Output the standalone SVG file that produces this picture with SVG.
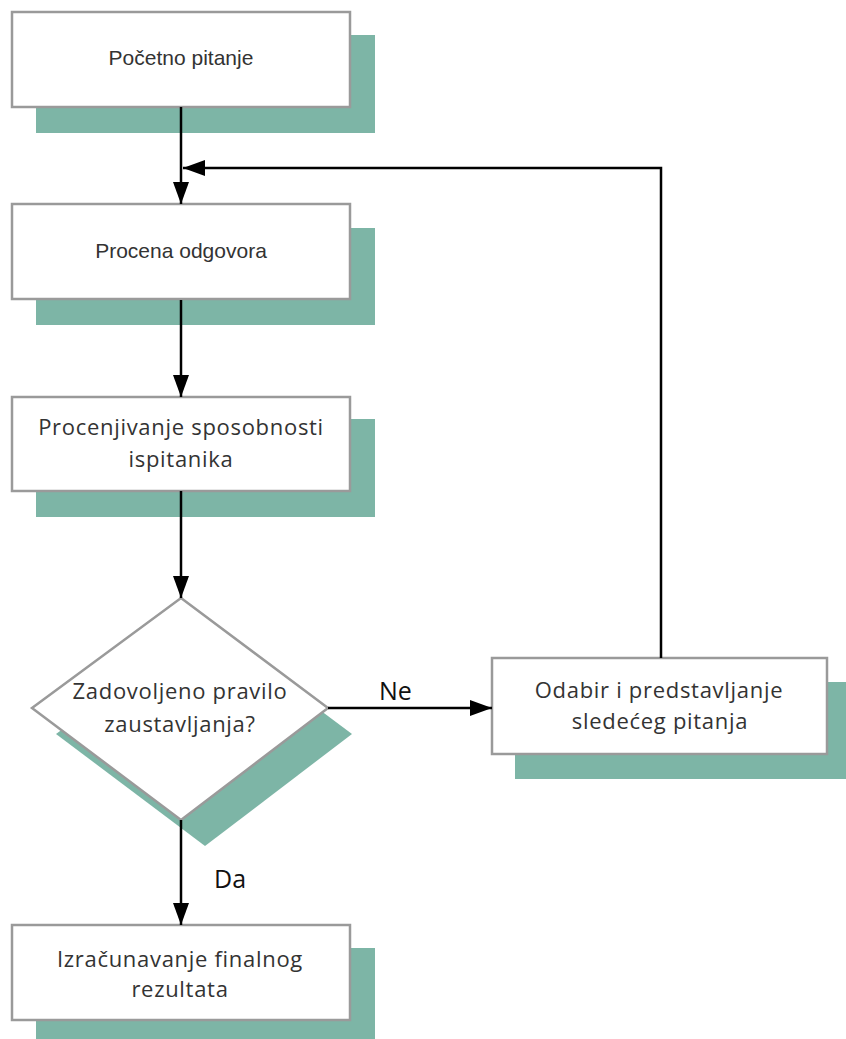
<svg xmlns="http://www.w3.org/2000/svg" width="846" height="1039" viewBox="0 0 846 1039">
<defs>
<marker id="ah" markerWidth="22" markerHeight="16" refX="22" refY="8" orient="auto" markerUnits="userSpaceOnUse">
<path d="M0,0 L22,8 L0,16 Z" fill="#000"/>
</marker>
<style>
.sh{fill:#7db5a6}
.bx{fill:#fff;stroke:#9a9a9a;stroke-width:2.5}
.ta{font-family:"Liberation Sans",Arial,sans-serif;font-size:21px;fill:#333;text-anchor:middle}
.tb{font-family:"Open Sans","Noto Sans",sans-serif;font-size:22px;fill:#333;text-anchor:middle;letter-spacing:0.7px}
.lb{font-family:"Open Sans","Noto Sans",sans-serif;font-size:25px;fill:#111}
.cn{stroke:#000;stroke-width:2.5;fill:none;marker-end:url(#ah)}
</style>
</defs>
<rect width="846" height="1039" fill="#fff"/>
<g id="n1">
<rect class="sh" x="36" y="35" width="339" height="98"/>
<rect class="bx" x="12" y="12" width="338" height="95"/>
<text class="ta" x="181" y="65">Početno pitanje</text>
</g>
<g id="n2">
<rect class="sh" x="36" y="228" width="339" height="97"/>
<rect class="bx" x="12" y="204" width="338" height="95"/>
<text class="ta" x="181" y="258">Procena odgovora</text>
</g>
<g id="n3">
<rect class="sh" x="36" y="419" width="339" height="98"/>
<rect class="bx" x="12" y="397" width="338" height="94"/>
<text class="tb" x="181" y="435">Procenjivanje sposobnosti</text>
<text class="tb" x="181" y="467">ispitanika</text>
</g>
<g id="n4">
<polygon class="sh" points="205,624 352,734 205,846 56,734"/>
<polygon class="bx" points="181,598 328,708 181,820 32,708"/>
<text class="tb" x="180" y="699">Zadovoljeno pravilo</text>
<text class="tb" x="180" y="732">zaustavljanja?</text>
</g>
<g id="n5">
<rect class="sh" x="515" y="682" width="335" height="97"/>
<rect class="bx" x="492" y="658" width="335" height="96"/>
<text class="tb" x="659" y="698">Odabir i predstavljanje</text>
<text class="tb" x="660" y="729">sledećeg pitanja</text>
</g>
<g id="n6">
<rect class="sh" x="36" y="948" width="339" height="95"/>
<rect class="bx" x="12" y="925" width="338" height="95"/>
<text class="tb" x="180" y="967">Izračunavanje finalnog</text>
<text class="tb" x="180" y="997">rezultata</text>
</g>
<g id="connectors">
<line class="cn" x1="181" y1="107" x2="181" y2="204"/>
<line class="cn" x1="181" y1="300" x2="181" y2="397"/>
<line class="cn" x1="181" y1="491" x2="181" y2="598"/>
<line class="cn" x1="181" y1="820" x2="181" y2="925"/>
<line class="cn" x1="328" y1="708" x2="492" y2="708"/>
<polyline class="cn" points="661,658 661,168 183,168"/>
<text class="lb" x="379" y="700">Ne</text>
<text class="lb" x="214" y="888">Da</text>
</g>
</svg>
